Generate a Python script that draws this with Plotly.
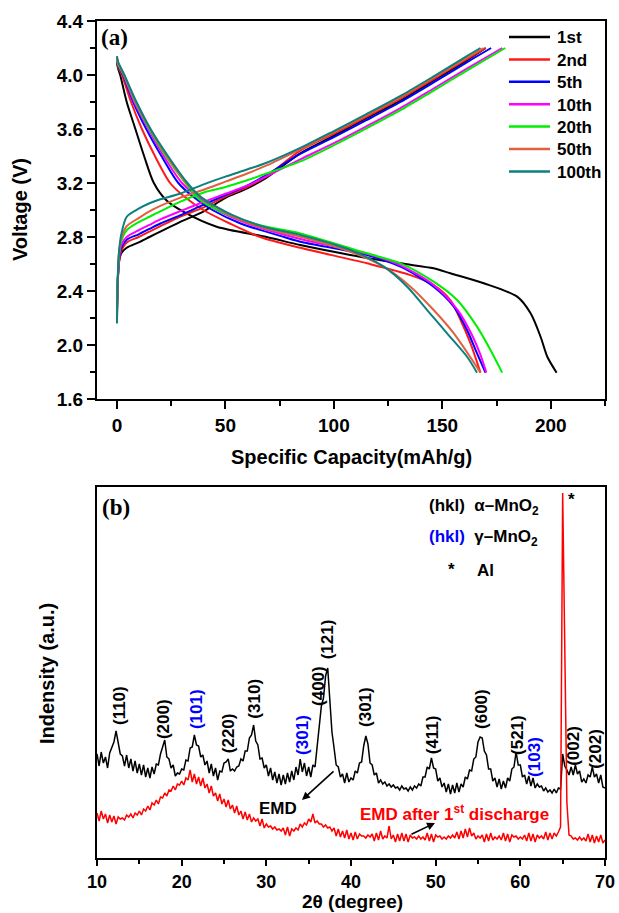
import plotly.graph_objects as go

# ---------------- Panel (a): charge/discharge profiles ----------------
cycle_names = ["1st", "2nd", "5th", "10th", "20th", "50th", "100th"]
cycle_colors = ["#000000", "#ff1a1a", "#0000ff", "#ff00ff", "#00ee00", "#e0603f", "#0e7f7f"]

charge_capacity = [0, 0.5, 1, 2, 4.5, 10, 15, 20, 29, 40, 50, 60, 69, 84.5, 100, 115, 130.7, 146, 161.5]
charge_v_1st = [2.30, 2.52, 2.62, 2.68, 2.72, 2.76, 2.80, 2.84, 2.91, 2.99, 3.09, 3.16, 3.24, 3.42, 3.55, 3.68, 3.81, 3.96, 4.11]
charge_v_2nd = [2.25, 2.50, 2.62, 2.70, 2.76, 2.80, 2.84, 2.88, 2.95, 3.02, 3.10, 3.17, 3.25, 3.44, 3.565, 3.69, 3.825, 3.97, 4.12]
charge_v_5th = [2.25, 2.52, 2.64, 2.72, 2.78, 2.82, 2.86, 2.90, 2.96, 3.04, 3.11, 3.18, 3.26, 3.415, 3.54, 3.665, 3.80, 3.945, 4.096]
charge_v_10th = [2.22, 2.52, 2.65, 2.74, 2.80, 2.85, 2.89, 2.93, 2.99, 3.06, 3.12, 3.18, 3.25, 3.375, 3.495, 3.62, 3.755, 3.90, 4.049]
charge_v_20th = [2.20, 2.55, 2.68, 2.77, 2.85, 2.91, 2.95, 2.99, 3.06, 3.13, 3.17, 3.22, 3.27, 3.36, 3.48, 3.605, 3.74, 3.885, 4.034]
charge_v_50th = [2.18, 2.55, 2.69, 2.79, 2.88, 2.94, 2.99, 3.03, 3.09, 3.15, 3.21, 3.27, 3.33, 3.45, 3.575, 3.70, 3.835, 3.98, 4.129]
charge_v_100th = [2.16, 2.56, 2.70, 2.82, 2.95, 3.01, 3.05, 3.08, 3.12, 3.19, 3.247, 3.30, 3.35, 3.46, 3.585, 3.71, 3.845, 3.99, 4.142]
charge_end_capacity = [170, 170, 172.5, 177.6, 179, 169, 167.6]
charge_end_voltage = [4.20, 4.20, 4.20, 4.20, 4.20, 4.20, 4.20]

dis_cap_1st = [0, 0.5, 1.5, 4.5, 8.5, 12.5, 17, 22.9, 31.4, 46, 69, 84.5, 107.6, 130.7, 146, 153.7, 169.1, 184.5, 190.7, 195.3, 198.4, 202.7]
dis_v_1st = [4.09, 4.05, 4.0, 3.8, 3.6, 3.4, 3.2, 3.07, 2.98, 2.876, 2.80, 2.74, 2.667, 2.605, 2.568, 2.531, 2.457, 2.358, 2.235, 2.061, 1.913, 1.795]
dis_cap_2nd = [0, 0.5, 2.3, 6.5, 11.5, 17.5, 24.5, 31, 39.8, 52, 66, 84.5, 115.3, 135.3, 146, 153.7, 158.4, 163, 167.6]
dis_v_2nd = [4.10, 4.06, 4.0, 3.8, 3.6, 3.4, 3.2, 3.1, 3.0, 2.9, 2.8, 2.72, 2.605, 2.518, 2.444, 2.333, 2.185, 2.012, 1.795]
dis_cap_5th = [0, 0.5, 2.8, 7.5, 13.5, 20.5, 28.3, 35, 44, 57, 77, 84.5, 115.3, 130.7, 146, 155.3, 161.4, 166, 169.9]
dis_v_5th = [4.11, 4.07, 4.0, 3.8, 3.6, 3.4, 3.2, 3.1, 3.0, 2.9, 2.8, 2.765, 2.667, 2.58, 2.432, 2.284, 2.111, 1.938, 1.795]
dis_cap_10th = [0, 0.5, 3.0, 8, 14.5, 21.5, 30, 37, 46, 60, 84.5, 115.3, 130.7, 146, 157, 163.5, 167.5, 170.3]
dis_v_10th = [4.12, 4.08, 4.0, 3.8, 3.6, 3.4, 3.2, 3.1, 3.0, 2.9, 2.785, 2.675, 2.59, 2.445, 2.26, 2.08, 1.93, 1.795]
dis_cap_20th = [0, 0.5, 3.2, 8.5, 15, 22.5, 31.5, 38.3, 53.6, 69, 84.5, 115.3, 130.7, 146, 156.8, 166, 172.2, 177.6]
dis_v_20th = [4.12, 4.08, 4.0, 3.8, 3.6, 3.4, 3.2, 3.074, 2.95, 2.876, 2.827, 2.679, 2.605, 2.469, 2.333, 2.136, 1.963, 1.795]
dis_cap_50th = [0, 0.5, 3.3, 8.7, 15.3, 23, 32, 38.5, 53.6, 69, 84.5, 107.6, 123, 135.3, 146, 155.3, 167.6]
dis_v_50th = [4.13, 4.09, 4.0, 3.8, 3.6, 3.4, 3.2, 3.1, 2.95, 2.86, 2.802, 2.691, 2.58, 2.432, 2.259, 2.086, 1.795]
dis_cap_100th = [0, 0.5, 3.4, 9, 15.5, 23.5, 32.5, 38.3, 53.6, 69, 84.5, 107.6, 123, 133.8, 143, 152.2, 161.4, 166]
dis_v_100th = [4.14, 4.10, 4.0, 3.8, 3.6, 3.4, 3.2, 3.1, 2.96, 2.87, 2.815, 2.704, 2.58, 2.432, 2.259, 2.086, 1.913, 1.795]

charge_v_all = [charge_v_1st, charge_v_2nd, charge_v_5th, charge_v_10th, charge_v_20th, charge_v_50th, charge_v_100th]
dis_cap_all = [dis_cap_1st, dis_cap_2nd, dis_cap_5th, dis_cap_10th, dis_cap_20th, dis_cap_50th, dis_cap_100th]
dis_v_all = [dis_v_1st, dis_v_2nd, dis_v_5th, dis_v_10th, dis_v_20th, dis_v_50th, dis_v_100th]

# ---------------- Panel (b): XRD patterns ----------------
two_theta = [10 + 0.25 * i for i in range(241)]
emd_intensity = [
    104, 92, 106, 95, 101, 90, 105, 110, 116, 127, 115, 104, 102, 92, 103, 90,
    99, 87, 97, 85, 94, 83, 93, 81, 90, 80, 91, 84, 94, 93, 104, 112,
    118, 101, 99, 90, 93, 82, 85, 84, 89, 88, 98, 97, 110, 111, 123, 113,
    112, 101, 103, 93, 97, 85, 94, 82, 90, 78, 87, 86, 95, 96, 99, 87,
    89, 87, 91, 92, 99, 97, 107, 107, 120, 123, 133, 117, 113, 99, 100, 90,
    93, 82, 90, 78, 86, 75, 84, 73, 83, 74, 85, 76, 87, 78, 91, 83,
    99, 86, 95, 82, 91, 81, 93, 91, 112, 126, 152, 160, 182, 190, 158, 126,
    110, 93, 91, 81, 84, 75, 85, 76, 80, 78, 87, 85, 95, 96, 112, 122,
    114, 95, 93, 83, 85, 75, 78, 74, 76, 72, 74, 71, 73, 70, 71, 68,
    72, 69, 70, 67, 71, 68, 72, 70, 74, 72, 81, 81, 91, 89, 100, 90,
    89, 77, 80, 71, 75, 66, 74, 64, 73, 65, 75, 66, 74, 71, 81, 79,
    88, 87, 99, 101, 116, 121, 120, 107, 103, 89, 89, 77, 80, 71, 79, 69,
    77, 70, 80, 77, 89, 91, 106, 93, 93, 81, 83, 74, 82, 72, 80, 70,
    74, 71, 72, 67, 70, 66, 68, 65, 69, 65, 70, 69, 104, 92, 88, 83,
    91, 83, 93, 84, 87, 76, 79, 75, 83, 81, 91, 81, 84, 75, 83, 71,
    70,
]
discharged_intensity = [
    45, 37, 47, 39, 44, 35, 43, 36, 42, 34, 41, 39, 40, 38, 43, 41,
    44, 40, 45, 43, 47, 43, 49, 47, 52, 48, 55, 53, 58, 54, 61, 60,
    65, 62, 68, 67, 72, 68, 74, 73, 77, 73, 80, 78, 88, 76, 84, 74,
    81, 72, 80, 70, 74, 65, 72, 62, 65, 57, 64, 54, 59, 51, 58, 49,
    53, 45, 52, 43, 47, 39, 46, 38, 44, 36, 40, 37, 39, 32, 39, 30,
    34, 31, 32, 29, 31, 28, 29, 27, 30, 23, 31, 22, 29, 27, 30, 28,
    34, 31, 35, 33, 39, 36, 44, 35, 37, 34, 34, 31, 33, 30, 31, 27,
    30, 22, 29, 21, 27, 20, 28, 19, 25, 18, 26, 19, 24, 22, 22, 20,
    23, 21, 24, 17, 25, 18, 27, 19, 22, 20, 32, 19, 23, 16, 24, 17,
    25, 17, 24, 16, 23, 20, 21, 19, 22, 19, 21, 18, 25, 17, 24, 16,
    23, 21, 22, 19, 21, 19, 22, 20, 23, 20, 26, 19, 27, 20, 29, 21,
    30, 22, 25, 19, 22, 20, 23, 16, 24, 17, 25, 18, 21, 19, 22, 18,
    25, 17, 24, 16, 23, 21, 22, 19, 21, 19, 23, 17, 25, 17, 24, 16,
    23, 20, 22, 19, 26, 18, 25, 19, 25, 22, 26, 31, 365, 195, 55, 23,
    22, 19, 20, 18, 21, 18, 20, 17, 24, 16, 23, 15, 22, 16, 23, 15,
    18,
]

peak_labels = ["(110)", "(200)", "(101)", "(220)", "(310)", "(301)", "(400)", "(121)",
               "(301)", "(411)", "(600)", "(521)", "(103)", "(002)", "(202)"]
peak_label_x = [12.6, 17.8, 21.7, 25.5, 28.5, 34.2, 36.1, 37.2, 41.65, 49.6, 55.35, 59.6, 61.6, 66.2, 68.8]
peak_label_y = [152, 139, 149, 125, 159, 123, 172, 219, 151, 123, 149, 123, 101, 112, 109]
peak_label_gamma = [False, False, True, False, False, True, False, False,
                    False, False, False, False, True, False, False]

W, H = 619, 913
def px(x):
    return x / W
def py(y):
    return 1 - y / H

FONT = "Liberation Sans, Arial, sans-serif"
SERIF = "Liberation Serif, Times New Roman, serif"

fig = go.Figure()

for i, name in enumerate(cycle_names):
    col = cycle_colors[i]
    fig.add_trace(go.Scatter(
        x=charge_capacity + [charge_end_capacity[i]],
        y=charge_v_all[i] + [charge_end_voltage[i]],
        mode="lines", line=dict(color=col, width=2, shape="spline", smoothing=0.8),
        name=name, showlegend=False, xaxis="x", yaxis="y"))
    fig.add_trace(go.Scatter(
        x=dis_cap_all[i], y=dis_v_all[i],
        mode="lines", line=dict(color=col, width=2, shape="spline", smoothing=0.8),
        name=name, showlegend=False, xaxis="x", yaxis="y"))

fig.add_trace(go.Scatter(x=two_theta, y=emd_intensity, mode="lines",
                         line=dict(color="black", width=1.5), showlegend=False,
                         xaxis="x2", yaxis="y2"))
fig.add_trace(go.Scatter(x=two_theta, y=discharged_intensity, mode="lines",
                         line=dict(color="#ff0000", width=1.5), showlegend=False,
                         xaxis="x2", yaxis="y2"))

axis_common = dict(showline=True, linecolor="black", linewidth=2, mirror=True,
                   showgrid=False, zeroline=False, ticks="outside",
                   tickwidth=2, tickcolor="black", automargin=False)
tickfont19 = dict(family=FONT, size=19, color="black", weight="bold")
tickfont18 = dict(family=FONT, size=18, color="black", weight="bold")

xdom = [px(97), px(605)]
fig.update_layout(
    template="none",
    width=W, height=H, margin=dict(l=0, r=0, t=0, b=0, pad=0, autoexpand=False),
    paper_bgcolor="white", plot_bgcolor="white",
    font=dict(family=FONT, color="black", weight="bold"),
    xaxis=dict(domain=xdom, range=[-9.2, 225], tickvals=[0, 50, 100, 150, 200],
               ticklen=8, tickfont=tickfont19,
               minor=dict(tickvals=[25, 75, 125, 175, 225], ticks="outside", ticklen=5,
                          tickwidth=2, tickcolor="black"),
               anchor="y", **axis_common),
    yaxis=dict(domain=[py(399), py(21)], range=[1.6, 4.4], dtick=0.4, tick0=1.6,
               tickformat=".1f", ticklen=8, tickfont=tickfont19,
               minor=dict(dtick=0.2, ticks="outside", ticklen=5, tickwidth=2, tickcolor="black"),
               anchor="x", **axis_common),
    xaxis2=dict(domain=xdom, range=[10, 70], dtick=10, tick0=10,
                ticklen=6, tickfont=tickfont18,
                minor=dict(dtick=5, ticks="outside", ticklen=4, tickwidth=2, tickcolor="black"),
                anchor="y2", **axis_common),
    yaxis2=dict(domain=[py(858), py(487)], range=[0, 371], showline=True, linecolor="black",
                linewidth=2, mirror=True, showgrid=False, zeroline=False, automargin=False,
                showticklabels=False, ticks="", anchor="x2"),
    showlegend=False,
)

ann = []
shapes = []
def text_ann(x, y, text, size=17, color="black", angle=0, family=FONT, xanchor="center", weight="bold"):
    ann.append(dict(x=px(x), y=py(y), xref="paper", yref="paper", text=text, showarrow=False,
                    textangle=angle, xanchor=xanchor, yanchor="middle",
                    font=dict(family=family, size=size, color=color, weight=weight)))

# legend for panel (a)
for i, name in enumerate(cycle_names):
    ly = 37 + 22.4 * i
    shapes.append(dict(type="line", xref="paper", yref="paper", x0=px(509), x1=px(550),
                       y0=py(ly), y1=py(ly), line=dict(color=cycle_colors[i], width=2.5)))
    text_ann(555, ly + 1, name, size=17, xanchor="left")

# axis titles
text_ann(351, 457, "Specific Capacity(mAh/g)", size=20)
text_ann(20, 210, "Voltage (V)", size=20, angle=-90)
text_ann(352, 901, "2θ (degree)", size=19)
text_ann(47, 674, "Indensity (a.u.)", size=20, angle=-90)
# panel labels
text_ann(114, 37, "(a)", size=23, family=SERIF)
text_ann(116, 507, "(b)", size=23, family=SERIF)

# peak labels
for lab, lx, ly, g in zip(peak_labels, peak_label_x, peak_label_y, peak_label_gamma):
    ann.append(dict(x=lx, y=ly, xref="x2", yref="y2", text=lab, showarrow=False,
                    textangle=-90, xanchor="center", yanchor="middle",
                    font=dict(family=FONT, size=17, color="#0000ff" if g else "black", weight="bold")))

# legend in panel (b)
text_ann(427, 507, "(hkl)  α–MnO<sub>2</sub>", size=17, xanchor="left")
text_ann(427, 538, "<span style='color:#0000ff'>(hkl)</span>  γ–MnO<sub>2</sub>", size=17, xanchor="left")
text_ann(451, 569, "*", size=17)
text_ann(485, 570, "Al", size=17)
text_ann(571, 499, "*", size=17)

# EMD labels
text_ann(278, 808, "EMD", size=17)
text_ann(454, 813, "EMD after 1<sup>st</sup> discharge", size=17, color="#ff0000")

# arrows
ann.append(dict(x=px(302), y=py(800), xref="paper", yref="paper", text="", showarrow=True,
                ax=33, ay=-30, arrowhead=2, arrowsize=1, arrowwidth=1.6, arrowcolor="black"))
ann.append(dict(x=px(435), y=py(823), xref="paper", yref="paper", text="", showarrow=True,
                ax=-25, ay=12, arrowhead=2, arrowsize=1, arrowwidth=1.6, arrowcolor="black"))

fig.update_layout(annotations=ann, shapes=shapes)
fig.write_html("out.html",
               config={"displayModeBar": False, "staticPlot": True},
               post_script="document.body.style.margin='0px';"
                           "document.body.style.overflow='hidden';")
